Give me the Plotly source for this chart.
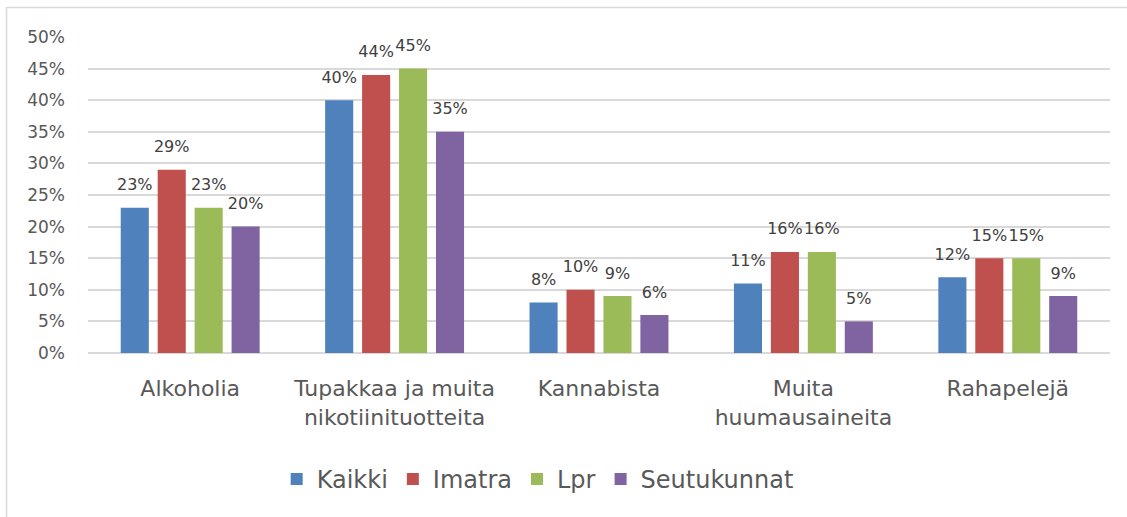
import plotly.graph_objects as go

categories = ["Alkoholia", "Tupakkaa ja muita<br>nikotiinituotteita", "Kannabista",
              "Muita<br>huumausaineita", "Rahapelejä"]
series_names = ["Kaikki", "Imatra", "Lpr", "Seutukunnat"]
kaikki = [0.23, 0.40, 0.08, 0.11, 0.12]
imatra = [0.29, 0.44, 0.10, 0.16, 0.15]
lpr = [0.23, 0.45, 0.09, 0.16, 0.15]
seutukunnat = [0.20, 0.35, 0.06, 0.05, 0.09]
colors = ["#4F81BD", "#C0504D", "#9BBB59", "#8064A2"]
y_ticks = [0, 0.05, 0.10, 0.15, 0.20, 0.25, 0.30, 0.35, 0.40, 0.45, 0.50]

FONT = "DejaVu Sans"
series = [kaikki, imatra, lpr, seutukunnat]

fig = go.Figure()
for name, vals, col in zip(series_names, series, colors):
    fig.add_trace(go.Bar(
        x=categories, y=vals, name=name, marker_color=col,
        marker_line_width=0, offsetgroup=name, hoverinfo="skip",
    ))
for name, vals, col in zip(series_names, series, colors):
    fig.add_trace(go.Scatter(
        x=categories, y=vals, mode="markers+text", offsetgroup=name,
        text=[f"{round(v*100)}%" for v in vals], textposition="top center",
        textfont=dict(family=FONT, size=16, color="#404040"),
        marker=dict(size=20, opacity=0), showlegend=False, hoverinfo="skip",
        cliponaxis=False,
    ))

fig.update_layout(
    width=1127, height=517,
    margin=dict(l=88, r=17, t=37, b=164),
    barmode="group", bargap=0.277, bargroupgap=0.24,
    scattermode="group", scattergap=0.277,
    plot_bgcolor="white", paper_bgcolor="white",
    font=dict(family=FONT, color="#595959"),
    legend=dict(orientation="h", x=0.44, xanchor="center", y=-0.40, yanchor="middle",
                font=dict(family=FONT, size=24, color="#595959"), traceorder="normal"),
    shapes=[dict(type="rect", xref="paper", yref="paper", x0=-0.0797, x1=1.05,
                 y0=-0.6, y1=1.0934, line=dict(color="#D9D9D9", width=1.5),
                 fillcolor="rgba(0,0,0,0)", layer="below")],
)
fig.update_yaxes(range=[0, 0.5], tickvals=y_ticks, tickformat=".0%",
                 gridcolor="#D9D9D9", gridwidth=1.5, zeroline=True,
                 zerolinecolor="#D9D9D9", zerolinewidth=1.5, showline=False,
                 tickfont=dict(family=FONT, size=17, color="#595959"),
                 ticklabelstandoff=22)
fig.update_xaxes(showline=False, showgrid=False,
                 tickfont=dict(family=FONT, size=22, color="#595959"),
                 ticklabelstandoff=20)

fig.write_html("out.html", config={"displayModeBar": False},
               post_script="document.body.style.margin='0';document.body.style.overflow='hidden';")
